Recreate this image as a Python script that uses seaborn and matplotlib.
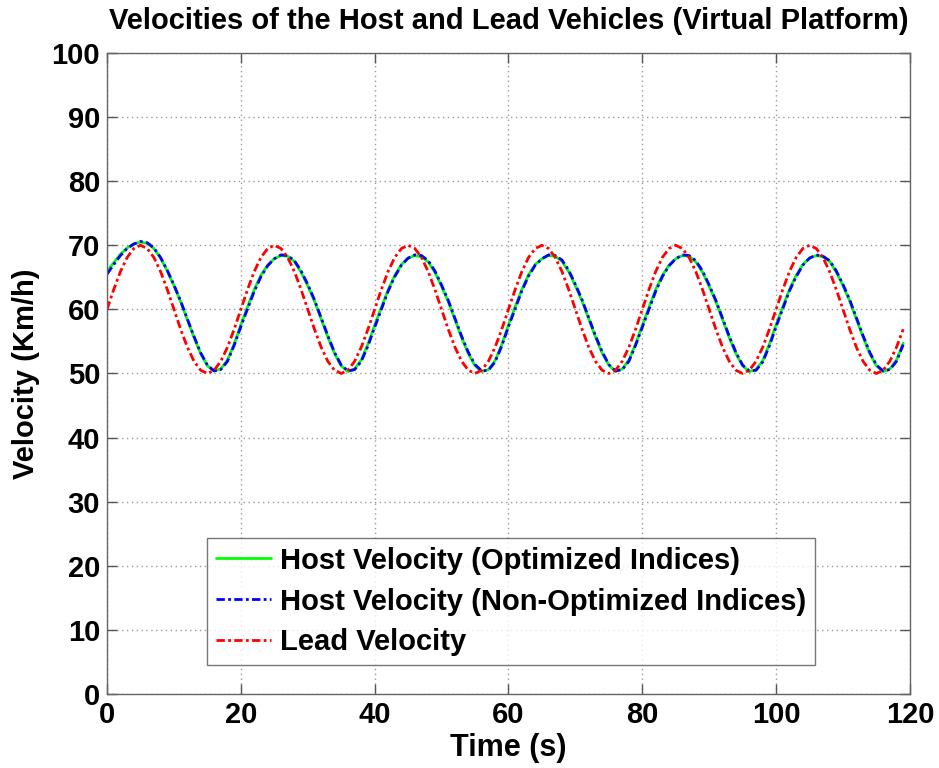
import numpy as np
import pandas as pd
import matplotlib
matplotlib.use("Agg")
import matplotlib.pyplot as plt
import seaborn as sns

# ---- data ----
time_s = list(range(0, 120))

lead_velocity = [
    60.0, 63.1, 65.9, 68.1, 69.5, 70.0, 69.5, 68.1, 65.9, 63.1, 60.0, 56.9, 54.1, 51.9, 50.5, 50.0, 50.5, 51.9, 54.1, 56.9,
    60.0, 63.1, 65.9, 68.1, 69.5, 70.0, 69.5, 68.1, 65.9, 63.1, 60.0, 56.9, 54.1, 51.9, 50.5, 50.0, 50.5, 51.9, 54.1, 56.9,
    60.0, 63.1, 65.9, 68.1, 69.5, 70.0, 69.5, 68.1, 65.9, 63.1, 60.0, 56.9, 54.1, 51.9, 50.5, 50.0, 50.5, 51.9, 54.1, 56.9,
    60.0, 63.1, 65.9, 68.1, 69.5, 70.0, 69.5, 68.1, 65.9, 63.1, 60.0, 56.9, 54.1, 51.9, 50.5, 50.0, 50.5, 51.9, 54.1, 56.9,
    60.0, 63.1, 65.9, 68.1, 69.5, 70.0, 69.5, 68.1, 65.9, 63.1, 60.0, 56.9, 54.1, 51.9, 50.5, 50.0, 50.5, 51.9, 54.1, 56.9,
    60.0, 63.1, 65.9, 68.1, 69.5, 70.0, 69.5, 68.1, 65.9, 63.1, 60.0, 56.9, 54.1, 51.9, 50.5, 50.0, 50.5, 51.9, 54.1, 56.9,
]

host_optimized = [
    65.9, 67.3, 68.6, 69.6, 70.2, 70.5, 70.3, 69.5, 68.0, 66.0, 63.7, 61.2, 58.4, 55.6, 53.1, 51.2, 50.4, 50.7, 52.1, 54.6,
    57.6, 60.4, 63.1, 65.3, 66.9, 67.9, 68.4, 68.3, 67.5, 65.8, 63.7, 61.3, 58.5, 55.7, 53.1, 51.2, 50.3, 50.7, 52.1, 54.6,
    57.5, 60.3, 63.0, 65.3, 67.0, 68.0, 68.4, 68.2, 67.4, 65.8, 63.6, 61.2, 58.4, 55.6, 53.1, 51.2, 50.3, 50.6, 52.0, 54.5,
    57.6, 60.4, 63.1, 65.4, 67.0, 67.9, 68.4, 68.3, 67.5, 65.9, 63.7, 61.3, 58.5, 55.7, 53.2, 51.3, 50.3, 50.7, 52.1, 54.6,
    57.5, 60.3, 63.1, 65.3, 66.9, 67.9, 68.4, 68.3, 67.4, 65.8, 63.6, 61.2, 58.4, 55.6, 53.1, 51.2, 50.3, 50.6, 52.0, 54.6,
    57.6, 60.4, 63.1, 65.3, 67.0, 68.0, 68.4, 68.2, 67.5, 65.8, 63.7, 61.3, 58.5, 55.7, 53.1, 51.2, 50.3, 50.7, 52.1, 54.7,
]

host_non_optimized = [
    65.5, 67.0, 68.4, 69.5, 70.2, 70.6, 70.4, 69.6, 68.1, 66.1, 63.8, 61.3, 58.5, 55.8, 53.2, 51.3, 50.4, 50.6, 51.9, 54.4,
    57.3, 60.1, 62.8, 65.1, 66.8, 67.9, 68.5, 68.4, 67.6, 66.0, 63.9, 61.5, 58.7, 55.9, 53.3, 51.3, 50.4, 50.6, 51.9, 54.3,
    57.2, 60.0, 62.8, 65.1, 66.9, 68.0, 68.5, 68.4, 67.6, 66.0, 63.8, 61.4, 58.6, 55.8, 53.3, 51.4, 50.4, 50.5, 51.8, 54.3,
    57.3, 60.1, 62.9, 65.2, 66.9, 67.9, 68.5, 68.4, 67.7, 66.1, 63.9, 61.5, 58.7, 55.9, 53.4, 51.4, 50.4, 50.6, 51.9, 54.4,
    57.2, 60.0, 62.8, 65.1, 66.8, 67.9, 68.5, 68.4, 67.6, 66.0, 63.8, 61.4, 58.6, 55.8, 53.3, 51.3, 50.4, 50.5, 51.8, 54.3,
    57.3, 60.1, 62.9, 65.1, 66.9, 68.0, 68.5, 68.3, 67.6, 66.0, 63.9, 61.5, 58.7, 55.9, 53.3, 51.3, 50.4, 50.6, 51.9, 54.5,
]

series_labels = [
    "Host Velocity (Optimized Indices)",
    "Host Velocity (Non-Optimized Indices)",
    "Lead Velocity",
]
x_ticks = [0, 20, 40, 60, 80, 100, 120]
y_ticks = [0, 10, 20, 30, 40, 50, 60, 70, 80, 90, 100]

# ---- styling ----
sns.set_theme(style="white")
plt.rcParams["font.family"] = ["Liberation Sans", "DejaVu Sans"]
plt.rcParams["font.weight"] = "bold"
plt.rcParams["text.color"] = "black"
plt.rcParams["axes.labelcolor"] = "black"
plt.rcParams["xtick.color"] = "black"
plt.rcParams["ytick.color"] = "black"

fig = plt.figure(figsize=(9.39, 7.68), dpi=100)
ax = fig.add_axes([0.114, 0.0964, 0.855, 0.8346])

df_opt = pd.DataFrame({"t": time_s, "v": host_optimized})
df_non = pd.DataFrame({"t": time_s, "v": host_non_optimized})
df_lead = pd.DataFrame({"t": time_s, "v": lead_velocity})

sns.lineplot(data=df_opt, x="t", y="v", ax=ax, color="#00ff00", linewidth=2.0,
             label=series_labels[0], estimator=None)
sns.lineplot(data=df_non, x="t", y="v", ax=ax, color="#0000ff", linewidth=2.0,
             label=series_labels[1], estimator=None, linestyle=(0, (3, 1.2, 1, 1.2)))
sns.lineplot(data=df_lead, x="t", y="v", ax=ax, color="#ff0000", linewidth=2.0,
             label=series_labels[2], estimator=None, linestyle=(0, (3, 1.2, 1, 1.2)))

ax.set_xlim(0, 120)
ax.set_ylim(0, 100)
ax.set_xticks(x_ticks)
ax.set_yticks(y_ticks)
ax.set_xticklabels([str(v) for v in x_ticks], fontsize=21, fontweight="bold")
ax.set_yticklabels([str(v) for v in y_ticks], fontsize=21, fontweight="bold")

ax.grid(True, color="#9a9a9a", linestyle=(0, (1, 2.5)), linewidth=1.0)
ax.tick_params(direction="in", length=7, width=1, color="#555555",
               top=True, right=True, bottom=True, left=True, pad=5, labelcolor="black")
for sp in ax.spines.values():
    sp.set_color("#666666")
    sp.set_linewidth(1.0)

ax.set_xlabel("Time (s)", fontsize=22, fontweight="bold", labelpad=3)
ax.set_ylabel("Velocity (Km/h)", fontsize=21, fontweight="bold", labelpad=8)
ax.set_title("Velocities of the Host and Lead Vehicles (Virtual Platform)",
             fontsize=21, fontweight="bold", pad=17)

leg = ax.legend(loc="lower left", bbox_to_anchor=(0.1245, 0.045), borderaxespad=0,
                fontsize=21, frameon=True, fancybox=False, handlelength=1.9,
                handletextpad=0.3, labelspacing=0.44, borderpad=0.3)
leg.get_frame().set_edgecolor("#555555")
leg.get_frame().set_linewidth(1.0)
for txt in leg.get_texts():
    txt.set_fontweight("bold")

fig.savefig("out.png", dpi=100)
